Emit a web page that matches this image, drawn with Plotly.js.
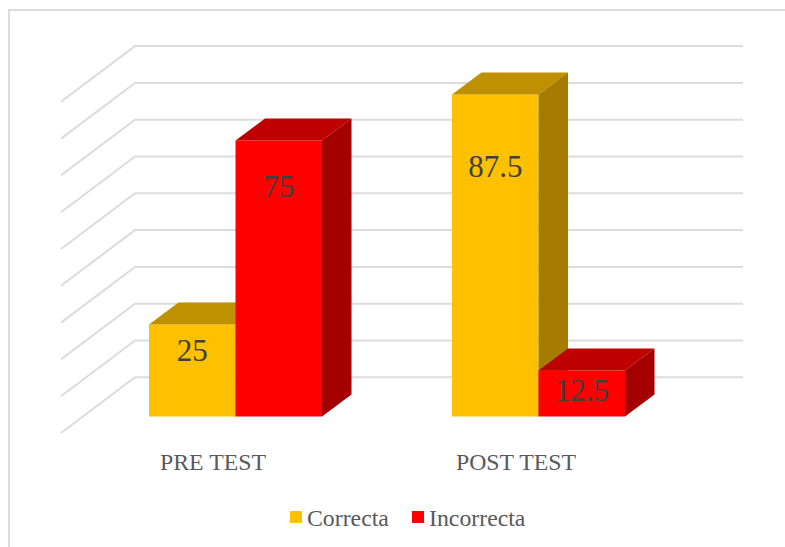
<!DOCTYPE html>
<html><head><meta charset="utf-8">
<script src="https://cdn.plot.ly/plotly-3.0.1.min.js"></script>
<style>html,body{margin:0;padding:0;background:#fff;overflow:hidden}#c{width:785px;height:547px}</style>
</head><body><div id="c"></div>
<script>
// Data
const categories = ["PRE TEST", "POST TEST"];
const correcta = [25, 87.5];
const incorrecta = [75, 12.5];
const gridValues = [0, 10, 20, 30, 40, 50, 60, 70, 80, 90];

// Geometry (3D look) in axis units
const idx = categories.map((_, i) => i);
const W = 785, H = 547;
const plot = {l: 40, r: 770, t: 20, b: 440};
const pxPerCat = 303, pxPerVal = 3.68, zeroX = 235.5, zeroY = 416.5;
const xRange = [(plot.l - zeroX) / pxPerCat, (plot.r - zeroX) / pxPerCat];
const yRange = [(zeroY - plot.b) / pxPerVal, (zeroY - plot.t) / pxPerVal];
const barW = 86.5 / pxPerCat;
const depthX = 29.5 / pxPerCat, depthY = 22 / pxPerVal;
const wallFrontX = (61 - zeroX) / pxPerCat, wallBackX = (135 - zeroX) / pxPerCat, wallRightX = (743 - zeroX) / pxPerCat;
const wallFrontDY = (416.5 - 433) / pxPerVal, wallBackDY = (416.5 - 377.3) / pxPerVal;
const tickShift = -22.5 / pxPerCat;
const labelDropC = [7.8, 20.4], labelDropI = [13.2, 6.1];

const gray = "#dcdcdc", textCol = "#595959", labelCol = "#404040", font = "Liberation Serif, Times New Roman, serif";

const gridTraces = gridValues.map(v => ({
  type: "scatter", mode: "lines", xaxis: "x", yaxis: "y", showlegend: false, hoverinfo: "skip",
  x: [wallFrontX, wallBackX, wallRightX],
  y: [v + wallFrontDY, v + wallBackDY, v + wallBackDY],
  line: {color: gray, width: 2}
}));

function series(name, vals, color, topCol, sideCol, offset, yaxis, drop) {
  const out = [{
    type: "bar", name, x: idx, y: vals, width: barW, offset, yaxis, xaxis: "x",
    marker: {color, line: {width: 0}}, hoverinfo: "y"
  }];
  vals.forEach((v, i) => {
    const x0 = i + offset, x1 = x0 + barW;
    out.push({type: "scatter", mode: "lines", fill: "toself", fillcolor: topCol, yaxis, xaxis: "x", showlegend: false, hoverinfo: "skip",
      line: {width: 0, color: topCol},
      x: [x0, x0 + depthX, x1 + depthX, x1, x0], y: [v, v + depthY, v + depthY, v, v]});
    out.push({type: "scatter", mode: "lines", fill: "toself", fillcolor: sideCol, yaxis, xaxis: "x", showlegend: false, hoverinfo: "skip",
      line: {width: 0, color: sideCol},
      x: [x1, x1 + depthX, x1 + depthX, x1, x1], y: [0, depthY, v + depthY, v, 0]});
  });
  out.push({type: "scatter", mode: "text", yaxis, xaxis: "x", showlegend: false, hoverinfo: "skip",
    x: idx.map(i => i + offset + barW / 2), y: vals.map((v, i) => v - drop[i]),
    text: vals.map(String), textposition: "middle center",
    textfont: {family: font, size: 31, color: labelCol}});
  return out;
}

const traces = gridTraces
  .concat(series("Correcta", correcta, "#FFC000", "#BF9000", "#A67C00", -barW, "y2", labelDropC))
  .concat(series("Incorrecta", incorrecta, "#FF0000", "#BF0000", "#A50000", 0, "y3", labelDropI));

const paperH = H - plot.t;
const paperY = px => (H - px) / paperH;
const paperX = px => (px - plot.l) / (plot.r - plot.l);
const domainY = [paperY(plot.b), 1];
const hiddenY = {range: yRange, domain: domainY, visible: false, fixedrange: true};
const layout = {
  width: W, height: H, paper_bgcolor: "#fff", plot_bgcolor: "rgba(0,0,0,0)",
  margin: {l: plot.l, r: W - plot.r, t: plot.t, b: 0, pad: 0},
  showlegend: true,
  legend: {orientation: "h", x: paperX(276), xanchor: "left", y: paperY(495), yanchor: "top",
           font: {family: font, size: 23.8, color: textCol}, traceorder: "normal",
           entrywidth: 77, entrywidthmode: "pixels", bgcolor: "rgba(0,0,0,0)", tracegroupgap: 0},
  xaxis: {range: xRange, tickmode: "array", tickvals: idx.map(i => i + tickShift), ticktext: categories,
          showgrid: false, zeroline: false, showline: false, ticks: "", ticklen: 0, ticklabelstandoff: 5,
          tickfont: {family: font, size: 23.8, color: textCol}, fixedrange: true, automargin: false},
  yaxis: Object.assign({}, hiddenY),
  yaxis2: Object.assign({overlaying: "y"}, hiddenY),
  yaxis3: Object.assign({overlaying: "y"}, hiddenY),
  shapes: [{type: "path", xref: "paper", yref: "paper", layer: "below",
    path: "M " + paperX(9) + " " + paperY(550) + " L " + paperX(9) + " " + paperY(10) + " L " + paperX(790) + " " + paperY(10),
    line: {color: gray, width: 2}}]
};

Plotly.newPlot("c", traces, layout, {displayModeBar: false, responsive: false}).then(gd => {
  document.querySelectorAll("#c .legendtext").forEach(t => t.setAttribute("x", 31));
  document.querySelectorAll("#c .legend .scrollbox").forEach(s => s.removeAttribute("clip-path"));
});
</script></body></html>
